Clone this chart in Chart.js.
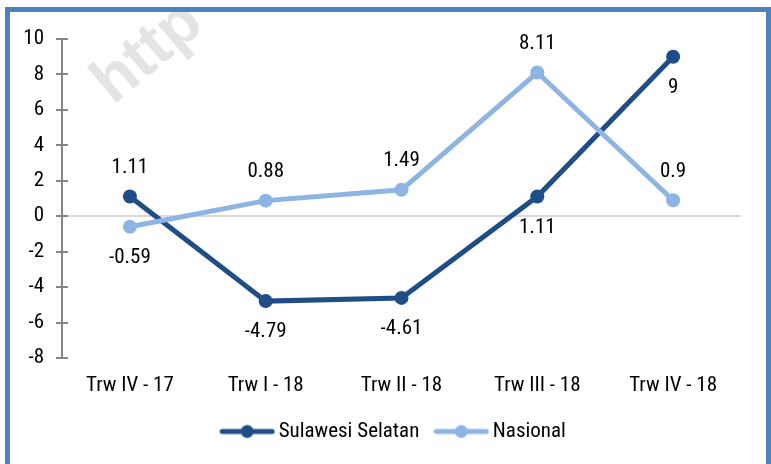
<!DOCTYPE html>
<html>
<head>
<meta charset="utf-8">
<script src="https://cdn.jsdelivr.net/npm/chart.js@4.4.1/dist/chart.umd.min.js"></script>
<style>
  html, body { margin: 0; padding: 0; background: #fff; }
  #wrap { position: relative; width: 771px; height: 464px; overflow: hidden; }
  #chart { position: absolute; left: 0; top: 0; }
  #frame {
    position: absolute; left: 5px; top: 7px; width: 766px; height: 480px;
    box-sizing: border-box; border: 5px solid #4F81BD; pointer-events: none;
  }
</style>
</head>
<body>
<div id="wrap">
  <canvas id="chart" width="771" height="464"></canvas>
  <div id="frame"></div>
</div>
<script>
// data kuartalan
const categories = ["Trw IV - 17", "Trw I - 18", "Trw II - 18", "Trw III - 18", "Trw IV - 18"];
const sulsel = [1.11, -4.79, -4.61, 1.11, 9];
const nasional = [-0.59, 0.88, 1.49, 8.11, 0.9];
// posisi label: 1 = di atas titik, -1 = di bawah
const sulselLabelPos = [1, -1, -1, -1, -1];
const nasionalLabelPos = [-1, 1, 1, 1, 1];

const DARK = "#1F4E86";
const LIGHT = "#8EB4E3";

// cari font sempit kalau ada, kalau tidak pakai Liberation Sans lebih kecil
function hasFont(name) {
  const g = document.createElement("canvas").getContext("2d");
  const probe = "Trw IV - 18 Sulawesi";
  g.font = "40px monospace";
  const a = g.measureText(probe).width;
  g.font = "40px '" + name + "', monospace";
  const b = g.measureText(probe).width;
  return a !== b;
}
const narrow = ["Liberation Sans Narrow", "Arial Narrow", "Roboto Condensed", "DejaVu Sans Condensed"].find(hasFont);
const FONT = narrow ? "'" + narrow + "', 'Liberation Sans', sans-serif" : "'Liberation Sans', Arial, sans-serif";
const FS = narrow ? 21 : 18;

function legendSwatch(color) {
  const c = document.createElement("canvas");
  c.width = 56; c.height = 16;
  const g = c.getContext("2d");
  g.strokeStyle = color; g.lineWidth = 5; g.lineCap = "round";
  g.beginPath(); g.moveTo(3, 8); g.lineTo(53, 8); g.stroke();
  g.fillStyle = color;
  g.beginPath(); g.arc(28, 8, 6.5, 0, Math.PI * 2); g.fill();
  return c;
}

const watermark = {
  id: "watermark",
  beforeDraw(chart) {
    // legenda digeser sedikit ke kanan seperti aslinya
    if (chart.legend) chart.legend.left = 51;
    const ctx = chart.ctx;
    ctx.save();
    ctx.translate(102, 92);
    ctx.rotate(-40 * Math.PI / 180);
    ctx.font = "bold 64px 'Liberation Sans', Arial, sans-serif";
    ctx.fillStyle = "#e4e4e4";
    ctx.fillText("http", 0, 0);
    ctx.restore();
  }
};

const innerTicks = {
  id: "innerTicks",
  afterDraw(chart) {
    const y = chart.scales.y;
    const ctx = chart.ctx;
    ctx.save();
    ctx.strokeStyle = "#868686";
    ctx.lineWidth = 2;
    for (let i = 0; i < y.ticks.length; i++) {
      const py = Math.round(y.getPixelForTick(i));
      ctx.beginPath();
      ctx.moveTo(y.right, py);
      ctx.lineTo(y.right + 6, py);
      ctx.stroke();
    }
    ctx.restore();
  }
};

const valueLabels = {
  id: "valueLabels",
  afterDatasetsDraw(chart) {
    const ctx = chart.ctx;
    const sides = [sulselLabelPos, nasionalLabelPos];
    ctx.save();
    ctx.font = FS + "px " + FONT;
    ctx.fillStyle = "#000";
    ctx.textAlign = "center";
    ctx.textBaseline = "middle";
    chart.data.datasets.forEach((ds, di) => {
      const meta = chart.getDatasetMeta(di);
      meta.data.forEach((pt, i) => {
        const off = sides[di][i] > 0 ? -29 : 31;
        ctx.fillText(String(ds.data[i]), pt.x, pt.y + off);
      });
    });
    ctx.restore();
  }
};

new Chart(document.getElementById("chart"), {
  type: "line",
  data: {
    labels: categories,
    datasets: [
      {
        label: "Sulawesi Selatan",
        data: sulsel,
        borderColor: DARK,
        backgroundColor: DARK,
        pointBackgroundColor: DARK,
        pointBorderWidth: 0,
        pointRadius: 7,
        borderWidth: 5,
        tension: 0,
        order: 1,
      },
      {
        label: "Nasional",
        data: nasional,
        borderColor: LIGHT,
        backgroundColor: LIGHT,
        pointBackgroundColor: LIGHT,
        pointBorderWidth: 0,
        pointRadius: 7,
        borderWidth: 5,
        tension: 0,
        order: 0,
      },
    ],
  },
  options: {
    responsive: false,
    animation: false,
    layout: { padding: { left: 0, top: 39, right: 30, bottom: 12 } },
    plugins: {
      tooltip: { enabled: false },
      legend: {
        position: "bottom",
        labels: {
          usePointStyle: true,
          pointStyleWidth: 42,
          color: "#000",
          font: { family: FONT, size: FS },
          padding: 21,
          generateLabels: () => [
            { text: "Sulawesi Selatan", pointStyle: legendSwatch(DARK), fillStyle: DARK, strokeStyle: DARK, lineWidth: 0, datasetIndex: 0 },
            { text: "Nasional", pointStyle: legendSwatch(LIGHT), fillStyle: LIGHT, strokeStyle: LIGHT, lineWidth: 0, datasetIndex: 1 },
          ],
        },
      },
    },
    scales: {
      x: {
        offset: true,
        grid: { display: false },
        border: { display: false },
        ticks: { color: "#000", font: { family: FONT, size: FS }, padding: 7, maxRotation: 0 },
        afterFit: (s) => { s.height = 42; },
      },
      y: {
        min: -8,
        max: 10,
        ticks: { stepSize: 2, color: "#000", font: { family: FONT, size: FS }, padding: 12 },
        grid: {
          color: (c) => (c.tick && c.tick.value === 0 ? "#D9D9D9" : "rgba(0,0,0,0)"),
          lineWidth: 2,
          tickColor: "#868686",
          tickLength: 6,
        },
        border: { color: "#868686", width: 2 },
        afterFit: (s) => { s.width = 62; },
      },
    },
  },
  plugins: [watermark, innerTicks, valueLabels],
});
</script>
</body>
</html>
